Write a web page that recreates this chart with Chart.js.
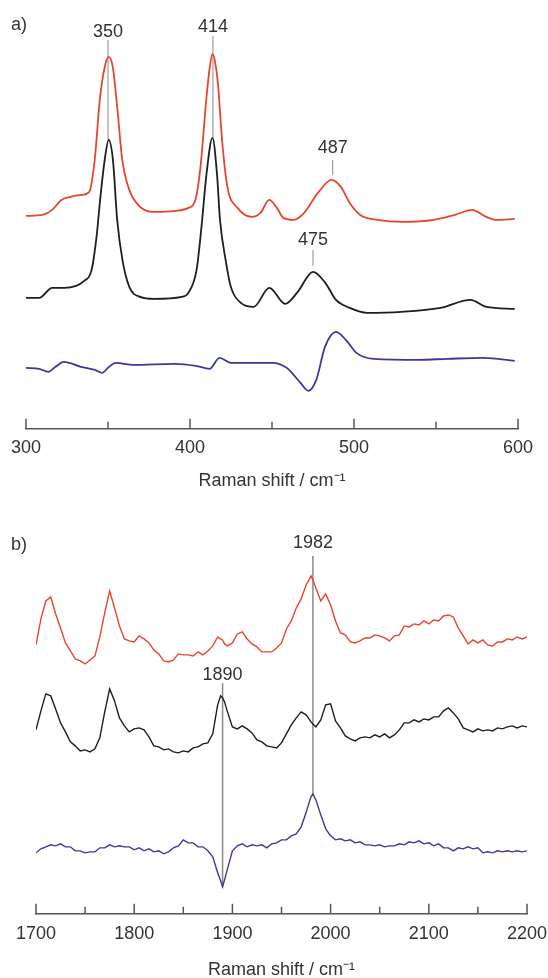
<!DOCTYPE html>
<html>
<head>
<meta charset="utf-8">
<title>Raman spectra</title>
<script src="https://cdn.jsdelivr.net/npm/chart.js@4.4.0/dist/chart.umd.min.js"></script>
<style>
  html, body { margin: 0; padding: 0; background: #fff; overflow: hidden; }
  canvas { display: block; }
</style>
</head>
<body>
<canvas id="chartA" width="548" height="492"></canvas>
<canvas id="chartB" width="548" height="489"></canvas>
<script>
"use strict";

// panel a) low-frequency region, values in counts relative to each trace's own baseline
const redShiftA = [300, 310, 316, 321.6, 327, 334, 338.6, 341.9, 345, 348, 350.4, 352.9, 355.6, 358.7, 363, 369.6, 378, 390.6, 399, 403.3, 406.4, 409.9, 412, 413.7, 415.5, 417, 419.7, 422.8, 429, 437.7, 443, 448.3, 452.6, 457, 463.3, 469.6, 478, 486.3, 492, 497.4, 503.8, 514.5, 529.4, 548.7, 561.5, 572, 580.7, 587, 598];
const redIntA = [0, 1, 6, 16, 19, 21, 24, 56, 116, 149, 159, 149, 109, 56, 26, 9, 4, 5, 8, 16, 49, 116, 148, 162, 152, 133, 73, 29, 8, -1, 3, 16, 9, -2, -4, 3, 23, 36, 29, 13, 1, -4, -6, -4, 1, 6, -1, -4, -3];

const blackShiftA = [300, 308, 316, 323.5, 335.5, 340, 343, 345.5, 348, 350.4, 353, 355.6, 358.8, 363, 369.6, 378, 395, 399, 404, 407, 410, 413.7, 416.5, 418.3, 421.7, 424.9, 431, 438.8, 448.4, 458, 465.7, 475, 482.5, 489, 497.4, 508, 529, 552.8, 571, 580.7, 598];
const blackIntA = [0, 0, 10, 10, 17, 28, 61, 103, 138, 158, 138, 78, 38, 11, 1, -1, 1, 5, 28, 71, 123, 160, 123, 78, 38, 11, -5, -9, 10, -6, 6, 26, 15, -2, -10, -15, -14, -10, -2, -9, -11];

const blueShiftA = [300, 308, 313.7, 318, 323, 333.5, 342, 346.6, 350, 354.7, 365.3, 390.8, 403.5, 412, 418, 424.9, 450.4, 458.9, 467.4, 472.1, 477, 482.3, 489, 495, 501.5, 512, 539.8, 556.8, 579, 598];
const blueIntA = [0, -1, -4, 1, 6, 1, -2, -5, 0, 5, 3, 4, 2, -1, 10, 5, 5, 0, -15, -23, -12, 21, 36, 28, 15, 9, 8, 9, 10, 7];

const offsetsA = [213, 131, 61];        // red, black, difference
const ticksA = [300, 400, 500, 600];

// panel b) carbonyl region
const shiftB = [1700, 1705, 1710, 1715, 1720, 1725, 1730, 1735, 1740, 1745, 1750, 1755, 1760, 1765, 1770, 1775, 1780, 1785, 1790, 1795, 1800, 1805, 1810, 1815, 1820, 1825, 1830, 1835, 1840, 1845, 1850, 1855, 1860, 1865, 1870, 1875, 1880, 1885, 1888, 1890, 1892, 1895, 1900, 1905, 1910, 1915, 1920, 1925, 1930, 1935, 1940, 1945, 1950, 1955, 1960, 1965, 1970, 1975, 1978, 1980, 1982, 1985, 1990, 1995, 2000, 2005, 2010, 2015, 2020, 2025, 2030, 2035, 2040, 2045, 2050, 2055, 2060, 2065, 2070, 2075, 2080, 2085, 2090, 2095, 2100, 2105, 2110, 2115, 2120, 2125, 2130, 2135, 2140, 2145, 2150, 2155, 2160, 2165, 2170, 2175, 2180, 2185, 2190, 2195, 2200];
const redIntB = [5, 31, 49, 53, 36, 22, 7, -1, -9, -11, -14, -10, -6, 13, 37, 59, 42, 24, 11, 9, 8, 14, 11, 7, 0, -4, -11, -12, -10, -4, -5, -5, -6, -2, -5, -1, 4, 13, 11, 10, 6, 4, 7, 16, 18, 11, 6, 3, -2, -2, -2, 2, 7, 21, 29, 42, 51, 65, 70, 74, 70, 62, 49, 56, 45, 29, 17, 15, 8, 7, 9, 12, 12, 15, 14, 12, 9, 14, 15, 24, 23, 26, 25, 29, 26, 30, 29, 34, 35, 33, 22, 14, 6, 10, 7, 10, 5, 4, 8, 8, 11, 10, 13, 11, 13];
const blackIntB = [10, 29, 46, 44, 31, 17, 8, -2, -6, -11, -10, -12, -9, 2, 28, 51, 39, 22, 14, 8, 11, 12, 10, 3, -6, -7, -10, -9, -12, -13, -11, -12, -8, -7, -4, -3, 6, 35, 44, 42, 38, 28, 13, 11, 14, 11, 7, 0, -2, -6, -7, -8, -3, 6, 15, 22, 28, 25, 21, 18, 16, 13, 20, 35, 36, 19, 12, 4, 1, -1, 2, 3, 2, 5, 3, 6, 2, 5, 10, 17, 17, 20, 18, 21, 20, 23, 23, 29, 32, 27, 21, 12, 10, 8, 11, 9, 10, 9, 12, 11, 13, 14, 12, 14, 13];
const blueIntB = [-3, 1, 3, 5, 4, 6, 3, 3, -1, -1, -3, -2, -2, 2, 2, 5, 3, 4, 3, 3, 0, 2, -1, 1, -2, -1, -4, -2, 2, 4, 10, 7, 7, 3, 3, -1, -7, -23, -31, -37, -30, -19, -1, 4, 6, 3, 5, 4, 5, 2, 6, 7, 10, 10, 14, 16, 23, 37, 47, 53, 56, 50, 35, 21, 14, 10, 11, 9, 10, 7, 8, 5, 5, 4, 5, 3, 4, 4, 6, 5, 8, 7, 9, 6, 7, 4, 6, 2, 2, -1, 2, 1, 3, 1, 2, -3, -2, -3, -1, -2, -1, -2, -1, -2, -1];

const offsetsB = [264, 174, 64];
const ticksB = [1700, 1800, 1900, 2000, 2100, 2200];

// peak annotations: label height and marker line span, in the y units of each panel
const peaksA = [
  { shift: 350, label: "350", labelY: 397, top: 389, bottom: 289 },
  { shift: 414, label: "414", labelY: 402, top: 393, bottom: 291 },
  { shift: 487, label: "487", labelY: 281, top: 269, bottom: 254 },
  { shift: 475, label: "475", labelY: 189, top: 179, bottom: 163 }
];
const peaksB = [
  { shift: 1982, label: "1982", labelY: 371, top: 358, bottom: 120 },
  { shift: 1890, label: "1890", labelY: 239, top: 231, bottom: 27 }
];

const colors = ["#e8452c", "#1e1e1e", "#3b3a98"];
const FONT = '"Liberation Sans", Arial, Helvetica, sans-serif';

Chart.defaults.font.family = FONT;
Chart.defaults.color = "#333";

function series(xs, ys, offset) {
  return xs.map((x, i) => ({ x: x, y: ys[i] + offset }));
}

function makeDecor(peaks, panelText, panelY, lineWidth) {
  return {
    id: "decor",
    beforeDatasetsDraw(chart) {
      const ctx = chart.ctx, xs = chart.scales.x, ys = chart.scales.y;
      ctx.save();
      ctx.strokeStyle = "#8a8a8a";
      ctx.lineWidth = lineWidth;
      peaks.forEach(p => {
        const px = xs.getPixelForValue(p.shift);
        ctx.beginPath();
        ctx.moveTo(px, ys.getPixelForValue(p.top));
        ctx.lineTo(px, ys.getPixelForValue(p.bottom));
        ctx.stroke();
      });
      ctx.restore();
    },
    afterDraw(chart) {
      const ctx = chart.ctx, xs = chart.scales.x, ys = chart.scales.y;
      ctx.save();
      // tick marks pointing up from the axis line
      ctx.strokeStyle = "#555";
      ctx.lineWidth = 1.5;
      const axisY = xs.top;
      for (let v = xs.min; v <= xs.max; v += 50) {
        const px = xs.getPixelForValue(v);
        const len = (v % 100 === 0) ? 10 : 7;
        ctx.beginPath();
        ctx.moveTo(px, axisY);
        ctx.lineTo(px, axisY - len);
        ctx.stroke();
      }
      ctx.fillStyle = "#333";
      ctx.font = "18px " + FONT;
      ctx.textAlign = "center";
      ctx.textBaseline = "middle";
      peaks.forEach(p => {
        ctx.fillText(p.label, xs.getPixelForValue(p.shift), ys.getPixelForValue(p.labelY));
      });
      ctx.textAlign = "left";
      ctx.fillText(panelText, 11, ys.getPixelForValue(panelY));
      ctx.restore();
    }
  };
}

function makeChart(id, cfg) {
  return new Chart(document.getElementById(id), {
    type: "line",
    data: {
      datasets: cfg.traces.map((t, i) => ({
        data: t,
        borderColor: colors[i],
        borderWidth: cfg.lineWidth,
        pointRadius: 0,
        fill: false,
        tension: cfg.smooth ? 0.4 : 0,
        cubicInterpolationMode: cfg.smooth ? "monotone" : "default"
      }))
    },
    options: {
      responsive: false,
      animation: false,
      layout: { padding: cfg.padding },
      plugins: { legend: { display: false }, tooltip: { enabled: false } },
      scales: {
        x: {
          type: "linear",
          min: cfg.min,
          max: cfg.max,
          grid: { display: false, drawTicks: false },
          border: { display: true, color: "#555", width: 1.5 },
          afterBuildTicks: scale => {
            scale.ticks = cfg.tickValues.map(v => ({ value: v }));
          },
          afterFit: scale => {
            // let the layout padding alone decide where the axis ends
            scale.paddingLeft = 0;
            scale.paddingRight = 0;
          },
          ticks: {
            autoSkip: false,
            maxRotation: 0,
            padding: cfg.tickPad,
            color: "#333",
            font: { size: 18 },
            callback: v => String(v)
          },
          title: {
            display: true,
            text: "Raman shift / cm\u207B\u00B9",
            color: "#333",
            font: { size: 18 },
            padding: { top: cfg.titlePad, bottom: 0 }
          }
        },
        y: { display: false, min: 0, max: cfg.yMax }
      }
    },
    plugins: [makeDecor(cfg.peaks, cfg.panel, cfg.panelY, cfg.markWidth)]
  });
}

makeChart("chartA", {
  traces: [
    series(redShiftA, redIntA, offsetsA[0]),
    series(blackShiftA, blackIntA, offsetsA[1]),
    series(blueShiftA, blueIntA, offsetsA[2])
  ],
  min: 300, max: 600, tickValues: ticksA,
  yMax: 429, smooth: true, lineWidth: 1.8,
  padding: { left: 26, right: 30, top: 0, bottom: 0 },
  tickPad: 8, titlePad: 4,
  peaks: peaksA, panel: "a)", panelY: 404, markWidth: 1
});

makeChart("chartB", {
  traces: [
    series(shiftB, redIntB, offsetsB[0]),
    series(shiftB, blackIntB, offsetsB[1]),
    series(shiftB, blueIntB, offsetsB[2])
  ],
  min: 1700, max: 2200, tickValues: ticksB,
  yMax: 422, smooth: false, lineWidth: 1.4,
  padding: { left: 36, right: 21, top: 0, bottom: 0 },
  tickPad: 9, titlePad: 6,
  peaks: peaksB, panel: "b)", panelY: 369, markWidth: 1.5
});
</script>
</body>
</html>
